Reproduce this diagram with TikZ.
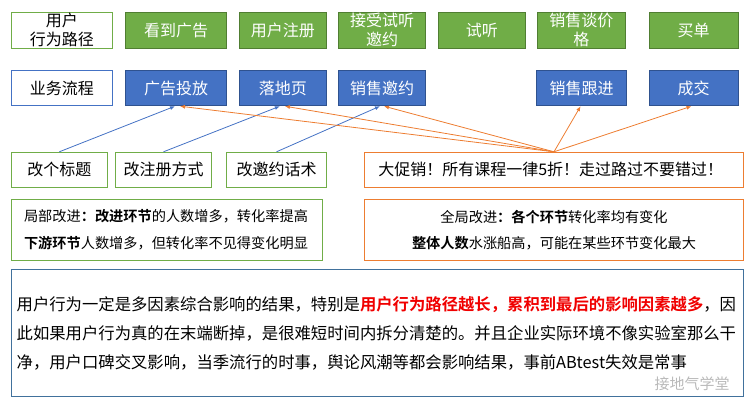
\documentclass[tikz,border=0pt]{standalone}
\usepackage{fontspec}
\setmainfont{Noto Sans CJK SC}[BoldFont={Noto Sans CJK SC Bold}]
\usetikzlibrary{arrows.meta}
\definecolor{pathgreen}{HTML}{70AD47}
\definecolor{framegreen}{HTML}{507E32}
\definecolor{flowblue}{HTML}{4472C4}
\definecolor{frameblue}{HTML}{2F528F}
\definecolor{noteblue}{HTML}{41719C}
\definecolor{promoorange}{HTML}{ED7D31}
\definecolor{hotred}{HTML}{F00000}

\begin{document}
\begin{tikzpicture}[x=1pt,y=-1pt,
  box/.style={minimum height=36, inner sep=0, align=center, line width=1pt,
    font=\fontsize{16}{19}\selectfont},
  stage/.style={box, draw=framegreen, fill=pathgreen, text=white},
  task/.style={box, draw=frameblue, fill=flowblue, text=white, minimum height=35.4},
  tweak/.style={box, draw=pathgreen, minimum height=35},
  note/.style={line width=1pt, inner ysep=0, minimum height=61.4,
    font=\fontsize{14.2}{26.7}\selectfont},
  bluearrow/.style={draw=flowblue, line width=0.8pt, -{Latex[length=5pt,width=4pt]}},
  orangearrow/.style={draw=promoorange, line width=0.8pt, -{Latex[length=5pt,width=4pt]}}]

\useasboundingbox (0,0) rectangle (756,405);

% User path
\node[box, draw=pathgreen, minimum width=101.4] (path)   at (62,30.3)    {用户\\行为路径};
\node[stage, minimum width=101.4]               (see)    at (176,30.3)   {看到广告};
\node[stage, minimum width=87.7]                (signup) at (282.9,30.3) {用户注册};
\node[stage, minimum width=87.4]                (accept) at (382,30.3)   {接受试听\\邀约};
\node[stage, minimum width=87.7]                (trial)  at (481.9,30.3) {试听};
\node[stage, minimum width=88.7]                (price)  at (581.4,30.3) {销售谈价\\格};
\node[stage, minimum width=89]                  (buy)    at (693.5,30.3) {买单};

% Business flow
\node[box, draw=flowblue, minimum width=101.4, minimum height=35.4] (flow) at (62,88) {业务流程};
\node[task, minimum width=101.4] (ad)     at (176,88)   {广告投放};
\node[task, minimum width=87.7]  (land)   at (282.9,88) {落地页};
\node[task, minimum width=87.4]  (invite) at (382,88)   {销售邀约};
\node[task, minimum width=89.3]  (follow) at (581.6,88) {销售跟进};
\node[task, minimum width=89]    (deal)   at (693.5,88) {成交};

% Changes
\node[tweak, minimum width=96]    (title)  at (59.3,169.8)  {改个标题};
\node[tweak, minimum width=96.4]  (regway) at (163.5,169.8) {改注册方式};
\node[tweak, minimum width=100.4] (script) at (276.5,169.8) {改邀约话术};
\node[box, draw=promoorange, minimum height=35, text width=351.4, inner xsep=14, align=left]
  (promo) at (554,169.8) {大促销！所有课程一律5折！走过路过不要错过！};

% Effects
\node[note, draw=pathgreen, text width=286, inner xsep=12.7, align=left] (local) at (167,230)
  {局部改进\textbf{：改进环节}的人数增多，转化率提高\\
   \textbf{下游环节}人数增多，但转化率不见得变化明显};
\node[note, draw=promoorange, text width=369.4, inner xsep=5, align=center] (global) at (554,230)
  {全局改进\textbf{：各个环节}转化率均有变化\\
   \textbf{整体人数}水涨船高，可能在某些环节变化最大};

% Summary
\node[draw=noteblue, line width=1pt, text width=721.6, inner xsep=5.4, inner ysep=0,
  minimum height=127.4, align=left, font=\fontsize{16.35}{29}\selectfont] (sum) at (377.5,333)
  {用户行为一定是多因素综合影响的结果，特别是\textcolor{hotred}{\textbf{用户行为路径越长，累积到最后的影响因素越多}}，因\\
   此如果用户行为真的在末端断掉，是很难短时间内拆分清楚的。并且企业实际环境不像实验室那么干\\
   净，用户口碑交叉影响，当季流行的时事，舆论风潮等都会影响结果，事前ABtest失效是常事};
\node[text=gray!55, font=\fontsize{15}{15}\selectfont] (mark) at (692,384) {接地气学堂};

\draw[bluearrow] (title.north)  -- ([xshift=-1]ad.south);
\draw[bluearrow] (regway.north) -- ([xshift=-3]land.south);
\draw[bluearrow] (script.north) -- ([xshift=-2]invite.south);

\draw[orangearrow] (promo.north) -- ([xshift=4]ad.south);
\draw[orangearrow] (promo.north) -- ([xshift=2]land.south);
\draw[orangearrow] (promo.north) -- ([xshift=2]invite.south);
\draw[orangearrow] (promo.north) -- ([xshift=-1]follow.south);
\draw[orangearrow] (promo.north) -- ([xshift=-2]deal.south);

\end{tikzpicture}
\end{document}
